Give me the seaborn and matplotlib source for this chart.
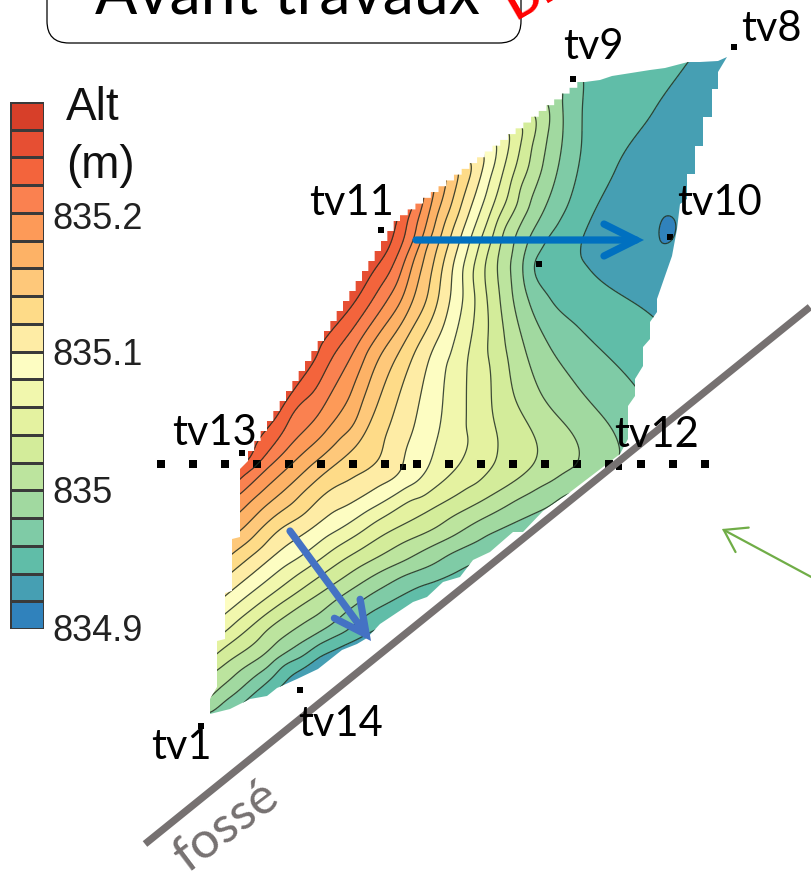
"""Altitude map before works: contours rebuilt from isoline samples read off the survey plot."""

import matplotlib

matplotlib.use('Agg')
import matplotlib.pyplot as plt
import matplotlib.tri as mtri
import numpy as np
import pandas as pd
import seaborn as sns
from matplotlib.colors import BoundaryNorm, ListedColormap
from matplotlib.patches import FancyBboxPatch, PathPatch
from matplotlib.path import Path

W, H = 812, 879

LEVELS = [834.90, 834.92, 834.94, 834.96, 834.98, 835.00, 835.02, 835.04, 835.06, 835.08,
          835.10, 835.12, 835.14, 835.16, 835.18, 835.20, 835.22, 835.24, 835.26, 835.28]
BIN_COLORS = ['#3082bc', '#469fb3', '#60bda8', '#7fcba6', '#a1d9a0', '#bce49e', '#d3ec9a',
              '#e4f2a0', '#f1f7ad', '#fdfdc2', '#feeca5', '#fedb88', '#fec87a', '#fdb266',
              '#fd9a58', '#fa8150', '#f3643c', '#e64f33', '#d73f29']
BAR_TICKS = ['835.2', '835.1', '835', '834.9']

# isoline samples, x/y in picture pixels, one list per contour piece
ISO_092 = [(672, 217), (660, 237), (667, 245), (675, 230)]
ISO_094_NE = [(697, 50), (688, 63), (653, 113), (617, 167), (583, 237), (580, 253), (587, 267), (650, 315), (668, 330)]
ISO_094_SW = [(255, 708), (277, 690), (292, 675), (318, 658), (345, 645), (375, 630), (400, 625)]
ISO_096_NE = [(585, 70), (583, 83), (582, 107), (580, 157), (570, 200), (543, 247), (533, 267), (550, 300), (580, 330), (635, 387), (650, 403)]
ISO_096_SW = [(230, 716), (245, 703), (268, 683), (302, 658), (342, 635), (380, 608), (425, 585), (467, 567), (490, 557)]
ISO_098 = [(563, 85), (562, 97), (563, 127), (557, 173), (543, 213), (525, 253), (523, 270), (528, 300), (547, 343),
           (577, 387), (620, 455), (600, 478), (562, 497), (543, 510), (480, 541), (430, 567), (380, 590), (350, 610), (325, 630),
           (292, 650), (258, 675), (225, 702), (205, 716)]
ISO_100 = [(549, 107), (547, 140), (535, 190), (517, 233), (512, 257), (513, 300), (523, 343), (540, 393), (580, 455),
           (577, 467), (560, 477), (480, 521), (430, 548), (380, 573), (340, 598), (295, 630), (265, 655), (225, 685), (203, 703)]
ISO_102 = [(536, 118), (532, 147), (520, 190), (503, 233), (498, 257), (500, 300), (505, 343), (513, 393), (538, 452),
           (530, 470), (480, 503), (430, 532), (380, 557), (340, 581), (300, 607), (268, 630), (225, 665), (205, 680)]
ISO_104 = [(523, 130), (517, 163), (507, 200), (493, 237), (487, 257), (487, 300), (490, 367), (493, 417), (498, 445),
           (493, 467), (480, 482), (423, 515), (380, 538), (340, 563), (295, 595), (248, 630), (225, 648), (205, 665)]
ISO_106 = [(510, 138), (503, 173), (493, 207), (480, 243), (473, 273), (475, 300), (467, 367), (467, 450), (453, 473),
           (413, 500), (380, 520), (340, 546), (300, 574), (260, 604), (225, 633), (205, 648)]
ISO_108 = [(497, 146), (490, 180), (480, 213), (467, 253), (463, 300), (450, 357), (437, 440), (417, 483), (380, 505),
           (340, 530), (300, 558), (260, 587), (225, 615), (205, 630)]
ISO_110 = [(485, 157), (477, 190), (467, 220), (453, 267), (450, 300), (430, 357), (407, 447), (397, 477), (350, 505),
           (315, 527), (270, 560), (225, 597), (205, 612)]
ISO_112 = [(472, 167), (463, 200), (453, 230), (442, 270), (438, 300), (413, 357), (387, 433), (377, 463), (327, 493),
           (280, 530), (232, 573), (212, 590)]
ISO_114 = [(458, 180), (450, 210), (440, 240), (433, 267), (427, 300), (397, 357), (370, 423), (353, 450), (320, 478), (275, 517),
           (232, 555), (212, 572)]
ISO_116 = [(446, 185), (438, 213), (427, 247), (413, 300), (380, 357), (353, 427), (327, 453), (280, 495), (240, 532), (215, 552)]
ISO_118 = [(433, 197), (425, 230), (413, 263), (402, 300), (367, 353), (330, 427), (300, 457), (270, 485), (240, 513), (215, 533)]
ISO_120 = [(422, 208), (415, 237), (403, 267), (388, 300), (350, 360), (313, 423), (287, 450), (262, 474), (240, 495), (215, 517)]
ISO_122 = [(408, 220), (403, 243), (390, 273), (373, 300), (333, 357), (293, 413), (273, 447), (248, 473), (225, 490)]
ISO_124 = [(397, 222), (390, 247), (373, 273), (357, 300), (317, 357), (280, 413), (257, 443), (248, 462), (225, 480)]

ISOLINES = [(834.92, ISO_092), (834.94, ISO_094_NE), (834.94, ISO_094_SW), (834.96, ISO_096_NE), (834.96, ISO_096_SW),
            (834.98, ISO_098), (835.00, ISO_100), (835.02, ISO_102), (835.04, ISO_104), (835.06, ISO_106),
            (835.08, ISO_108), (835.10, ISO_110), (835.12, ISO_112), (835.14, ISO_114), (835.16, ISO_116),
            (835.18, ISO_118), (835.20, ISO_120), (835.22, ISO_122), (835.24, ISO_124)]

# spot heights around and outside the mapped area, so the surface covers all of it
SPOT_X = [668, 740, 720, 700, 690, 670, 300, 340, 280, 640, 560, 530, 520, 500, 470, 440, 410, 385,
          350, 300, 250, 222, 500, 670, 660, 640, 440, 200, 560]
SPOT_Y = [232, 40, 110, 170, 240, 290, 696, 664, 706, 55, 75, 100, 110, 130, 150, 175, 200, 212,
          262, 330, 410, 460, 575, 400, 430, 470, 610, 730, 540]
SPOT_ALT = [834.91, 834.93, 834.93, 834.93, 834.93, 834.93, 834.93, 834.93, 834.93, 834.95, 834.97, 835.01,
            835.03, 835.07, 835.11, 835.17, 835.23, 835.26, 835.27, 835.27, 835.27, 835.27, 834.95, 834.95,
            834.965, 834.97, 834.95, 834.95, 834.97]

# corners of the mapped area, the stepped edges come from stairs()
EDGE_TOP = [(727, 58), (718, 62), (700, 63), (688, 63), (665, 69), (650, 71), (612, 77), (600, 81), (585, 83)]
EDGE_WEST = [(240, 470), (240, 538), (232, 540), (232, 592), (225, 594), (225, 640), (217, 642), (217, 688), (210, 700), (210, 715)]
EDGE_SE = [(230, 710), (250, 700), (267, 697), (277, 689), (297, 680), (318, 670), (342, 651), (357, 645), (367, 639),
           (380, 625), (413, 603), (427, 598), (443, 583), (460, 578), (473, 561), (490, 553), (513, 533), (523, 533),
           (543, 512), (565, 497), (620, 455)]
EDGE_EAST = [(628, 440), (628, 407), (635, 397), (635, 380), (643, 367), (643, 348), (650, 340), (650, 323), (657, 313),
             (657, 300), (665, 277), (672, 257), (677, 230), (680, 205), (687, 200), (687, 175), (695, 175), (695, 147),
             (703, 147), (703, 118), (712, 118), (712, 90), (718, 90), (718, 73)]

SURVEY_X = [734, 573, 381, 539, 670, 242, 403, 619, 300, 201]
SURVEY_Y = [48, 80, 231, 265, 238, 454, 468, 468, 691, 727]
TRANSECT_X = [161, 193, 225, 257, 289, 321, 353, 385, 417, 449, 481, 513, 545, 577, 609, 641, 673, 705]
TRANSECT_Y = [465] * 18
DITCH_X = [145, 810]
DITCH_Y = [845, 308]

LABELS = ['tv8', 'tv9', 'tv11', 'tv10', 'tv13', 'tv12', 'tv14', 'tv1']
LABEL_X = [741, 563, 309, 677, 172, 614, 298, 151]
LABEL_Y = [41, 59, 215, 215, 445, 447, 736, 759]


def stairs(p, q, n):
    # n equal steps from p to q, run then rise
    xs = np.linspace(p[0], q[0], n + 1)
    ys = np.linspace(p[1], q[1], n + 1)
    out = []
    for i in range(n):
        out += [(xs[i], ys[i]), (xs[i + 1], ys[i]), (xs[i + 1], ys[i + 1])]
    return out


def surface():
    pts = [(alt, x, y) for alt, line in ISOLINES for x, y in line]
    pts += list(zip(SPOT_ALT, SPOT_X, SPOT_Y))
    df = pd.DataFrame(pts, columns=['alt', 'x', 'y'])
    tri = mtri.Triangulation(df['x'], df['y'])
    gx, gy = np.meshgrid(np.arange(190, 750, 2.0), np.arange(30, 730, 2.0))
    z = mtri.CubicTriInterpolator(tri, df['alt'], kind='geom')(gx, gy).filled(np.nan)

    # soften the triangle facets, a short normalised blur along both axes
    kernel = np.array([1, 2, 4, 6, 8, 9, 8, 6, 4, 2, 1.0])
    ok = np.isfinite(z).astype(float)
    num, den = np.nan_to_num(z) * ok, ok
    for axis in (0, 1):
        num = np.apply_along_axis(np.convolve, axis, num, kernel, mode='same')
        den = np.apply_along_axis(np.convolve, axis, den, kernel, mode='same')
    smooth = np.where(ok > 0, num / np.maximum(den, 1e-9), np.nan)
    return gx, gy, np.ma.masked_invalid(smooth)


def arrow(ax, start, end, color, lw, head):
    ax.annotate('', xy=end, xytext=start,
                arrowprops=dict(arrowstyle=f'->,head_length={head[0]},head_width={head[1]}',
                                color=color, lw=lw, shrinkA=0, shrinkB=0, mutation_scale=10,
                                capstyle='round', joinstyle='miter'))


sns.set_theme(style='white')
plt.rcParams['font.family'] = ['Lato', 'DejaVu Sans']

fig = plt.figure(figsize=(W / 100, H / 100), dpi=100)
ax = fig.add_axes([0, 0, 1, 1])
ax.set_xlim(0, W)
ax.set_ylim(H, 0)
ax.axis('off')

outline = EDGE_TOP + stairs((585, 83), (400, 222), 24) + stairs((400, 222), (248, 462), 24)
outline += EDGE_WEST + EDGE_SE + EDGE_EAST
clip = PathPatch(Path(outline + [outline[0]], closed=True), transform=ax.transData, fc='none', ec='none')
ax.add_patch(clip)

gx, gy, gz = surface()
cmap = ListedColormap(BIN_COLORS)
norm = BoundaryNorm(LEVELS, cmap.N)
fill = ax.contourf(gx, gy, gz, levels=LEVELS, cmap=cmap, norm=norm)
lines = ax.contour(gx, gy, gz, levels=LEVELS[1:-1], colors='#1f2d22', linewidths=0.9, alpha=0.85)
fill.set_clip_path(clip)
lines.set_clip_path(clip)

sns.lineplot(x=DITCH_X, y=DITCH_Y, color='#767171', lw=5.2, sort=False, ax=ax, solid_capstyle='butt')
sns.scatterplot(x=TRANSECT_X, y=TRANSECT_Y, marker='s', s=26, color='black', linewidth=0, ax=ax)
sns.scatterplot(x=SURVEY_X, y=SURVEY_Y, marker='s', s=20, color='black', linewidth=0, ax=ax)

arrow(ax, (416, 241), (644, 241), '#0070c0', 5.2, (2.3, 1.15))
arrow(ax, (290, 532), (371, 642), '#4472c4', 5.2, (2.3, 1.15))
arrow(ax, (815, 580), (722, 530), '#70ad47', 1.6, (1.5, 1.0))

for text, x, y in zip(LABELS, LABEL_X, LABEL_Y):
    ax.text(x, y, text, fontsize=30, color='black', va='baseline')
ax.text(188, 873, 'fossé', fontsize=37, color='#767171', rotation=37, rotation_mode='anchor', va='baseline')

box = FancyBboxPatch((47, -40), 474, 84, boxstyle='round,pad=0,rounding_size=22', fc='white', ec='black', lw=0.9, zorder=1)
ax.add_patch(box)
ax.text(95, 14, 'Avant travaux', fontsize=45, color='black', va='baseline', zorder=2)
ax.text(515, 20, 'Dii', fontsize=33, color='red', fontweight='bold', rotation=30, rotation_mode='anchor', va='baseline', zorder=3)

# colour bar: one column of bins drawn as a heatmap, highest on top
mids = (np.array(LEVELS[:-1]) + np.array(LEVELS[1:])) / 2
bar = fig.add_axes([10 / W, 1 - 630 / H, 34 / W, 527 / H])
sns.heatmap(pd.DataFrame({'alt': mids[::-1]}), cmap=cmap, norm=norm, cbar=False, linewidths=0.9, linecolor='#3a3a3a',
            xticklabels=False, yticklabels=False, ax=bar)
bar.set_xlabel('')
bar.set_ylabel('')

for text, y in zip(BAR_TICKS, [220, 356, 494, 632]):
    ax.text(52, y, text, fontsize=26, family='Liberation Sans', color='#222222', va='center')
ax.text(66, 120, 'Alt', fontsize=33, family='Liberation Sans', color='#111111', va='baseline')
ax.text(66, 178, '(m)', fontsize=33, family='Liberation Sans', color='#111111', va='baseline')

fig.savefig('out.png', dpi=100)
